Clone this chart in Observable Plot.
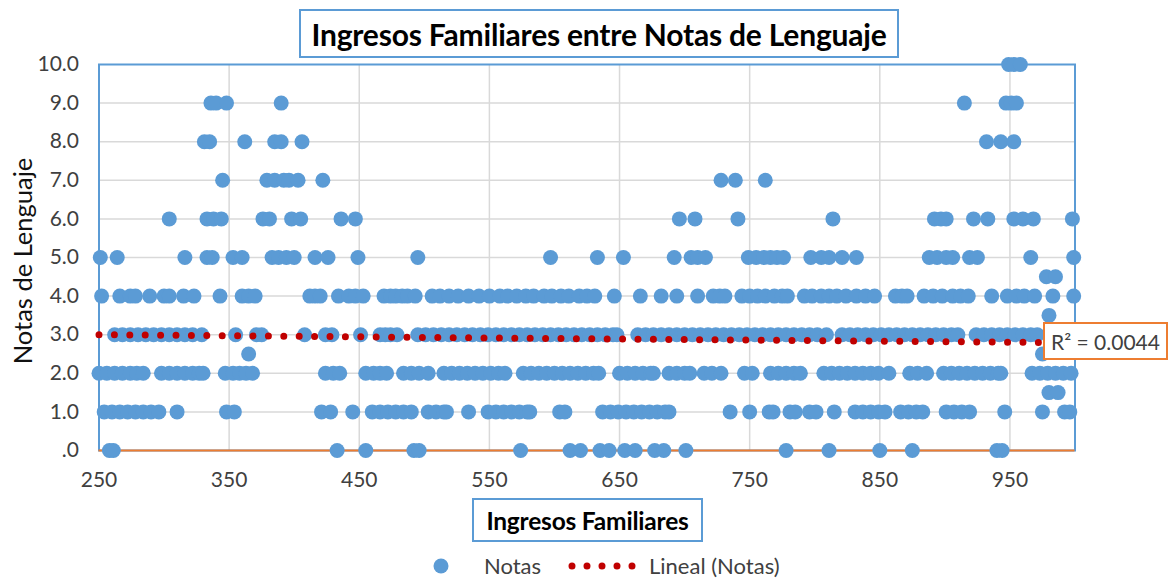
<!DOCTYPE html>
<html><head><meta charset="utf-8">
<script src="https://cdn.jsdelivr.net/npm/d3@7"></script>
<script src="https://cdn.jsdelivr.net/npm/@observablehq/plot@0.6"></script>
<style>
body{margin:0;background:#fff;font-family:Lato,sans-serif;}
#wrap{position:relative;width:1171px;height:578px;overflow:hidden;background:#fff}
#wrap svg{position:absolute;left:0;top:0}
.box{position:absolute;box-sizing:border-box;background:#fff;display:flex;align-items:center;justify-content:center;white-space:nowrap}
.abs{position:absolute;white-space:nowrap}
</style></head><body><div id="wrap"></div>
<script>
const chartTitle = "Ingresos Familiares entre Notas de Lenguaje";
const xTitle = "Ingresos Familiares";
const yTitle = "Notas de Lenguaje";
const seriesName = "Notas";
const trendName = "Lineal (Notas)";
const r2Label = "R² = 0.0044";

const xTicks = [250, 350, 450, 550, 650, 750, 850, 950];
const yTicks = [0, 1, 2, 3, 4, 5, 6, 7, 8, 9, 10];

// Ingresos familiares (x) for each Nota de Lenguaje (y)
const notas10 = [949, 953, 958];
const notas9 = [336, 340, 348, 390, 915, 947, 951, 955];
const notas8 = [331, 335, 362, 385, 390, 406, 932, 943, 953];
const notas7 = [345, 379, 385, 392, 396, 403, 422, 728, 739, 762];
const notas6 = [304, 333, 338, 344, 376, 381, 398, 405, 436, 447, 696, 708, 741, 814, 892, 897, 901, 922, 933, 953, 960, 968, 998];
const notas5 = [251, 264, 316, 333, 337, 353, 360, 383, 388, 394, 400, 416, 426, 449, 495, 597, 633, 653, 692, 705, 710, 716, 749, 755, 761, 766, 771, 776, 797, 805, 811, 821, 832, 888, 894, 901, 906, 919, 925, 966, 999];
const notas45 = [978, 985];
const notas4 = [252, 266, 274, 278, 289, 300, 304, 315, 323, 343, 360, 365, 370, 412, 416, 420, 434, 442, 447, 453, 469, 474, 478, 483, 487, 493, 506, 512, 519, 526, 534, 542, 550, 558, 564, 571, 578, 584, 592, 598, 605, 611, 619, 625, 631, 646, 666, 682, 694, 710, 722, 727, 731, 744, 750, 756, 762, 769, 775, 779, 792, 798, 805, 811, 817, 824, 832, 839, 846, 862, 867, 871, 884, 891, 898, 906, 912, 918, 936, 948, 955, 961, 969, 983, 999];
const notas35 = [980];
const notas3 = [262, 268, 274, 280, 286, 292, 298, 304, 310, 316, 322, 329, 355, 371, 375, 408, 424, 429, 451, 466, 470, 474, 479, 495, 501, 507, 513, 519, 525, 531, 537, 543, 549, 555, 561, 567, 573, 579, 585, 591, 597, 603, 609, 615, 621, 627, 633, 639, 645, 648, 664, 670, 676, 682, 688, 694, 700, 706, 712, 718, 724, 730, 736, 742, 748, 754, 760, 766, 772, 778, 784, 790, 796, 802, 809, 821, 827, 833, 839, 845, 851, 857, 863, 869, 875, 881, 887, 893, 899, 905, 910, 924, 930, 936, 942, 948, 954, 960, 966, 971, 980, 990, 998];
const notas25 = [365, 975];
const notas2 = [250, 256, 262, 268, 274, 279, 284, 298, 304, 310, 316, 322, 327, 330, 347, 353, 358, 363, 368, 424, 430, 435, 455, 461, 466, 471, 484, 490, 496, 503, 515, 521, 527, 533, 539, 545, 551, 557, 562, 576, 582, 588, 594, 600, 606, 612, 618, 624, 630, 634, 650, 656, 662, 668, 674, 676, 688, 694, 700, 704, 715, 721, 728, 746, 752, 766, 772, 778, 784, 789, 807, 813, 819, 825, 831, 837, 843, 849, 857, 873, 879, 886, 899, 905, 911, 917, 923, 929, 935, 941, 943, 967, 973, 979, 985, 991, 997];
const notas15 = [980, 987];
const notas1 = [254, 260, 266, 272, 278, 284, 290, 296, 310, 348, 354, 421, 428, 445, 460, 466, 472, 478, 484, 490, 503, 509, 515, 517, 534, 549, 555, 561, 567, 573, 579, 581, 604, 608, 637, 643, 649, 655, 661, 667, 673, 679, 685, 688, 735, 750, 765, 768, 781, 785, 796, 801, 815, 831, 837, 843, 849, 854, 866, 872, 878, 883, 901, 907, 913, 919, 946, 975, 992, 996];
const notas0 = [258, 261, 433, 455, 492, 496, 574, 612, 620, 635, 642, 654, 662, 677, 684, 701, 778, 811, 850, 875, 940, 944];

// Excel linear trendline endpoints
const trendX = [250, 1000];
const trendY = [3.0, 2.79];

const rows = [
  [10, notas10], [9, notas9], [8, notas8], [7, notas7], [6, notas6], [5, notas5],
  [4.5, notas45], [4, notas4], [3.5, notas35], [3, notas3], [2.5, notas25],
  [2, notas2], [1.5, notas15], [1, notas1], [0, notas0]
];
const data = rows.flatMap(([y, xs]) => xs.map(x => ({ingreso: x, nota: y})));
const trend = trendX.map((x, i) => ({x, y: trendY[i]}));

const BLUE = "#5B9BD5", ORANGE = "#ED7D31", RED = "#C00000";

const chart = Plot.plot({
  width: 1171, height: 578,
  marginLeft: 98.5, marginRight: 96.5, marginTop: 64, marginBottom: 128,
  x: {domain: [250, 1000]},
  y: {domain: [0, 10]},
  style: {fontFamily: "Lato, sans-serif", fontSize: "21px", color: "#404040", background: "white", overflow: "visible"},
  marks: [
    Plot.gridX(xTicks.filter(d => d > 250), {stroke: "#d9d9d9", strokeOpacity: 1, strokeWidth: 1.5}),
    Plot.gridY(yTicks.filter(d => d > 0 && d < 10), {stroke: "#d9d9d9", strokeOpacity: 1, strokeWidth: 1.5}),
    Plot.frame({stroke: BLUE, strokeWidth: 2}),
    Plot.ruleY([0], {stroke: ORANGE, strokeWidth: 2}),
    Plot.axisX({ticks: xTicks, tickSize: 0, tickPadding: 22, label: null, tickFormat: d => String(d), fontSize: 21}),
    Plot.axisY({ticks: yTicks, tickSize: 0, tickPadding: 20, label: null, tickFormat: d => d === 0 ? ".0" : d.toFixed(1), fontSize: 21}),
    Plot.dot(data, {x: "ingreso", y: "nota", r: 7.5, fill: BLUE, stroke: "none"}),
    Plot.line(trend, {x: "x", y: "y", stroke: RED, strokeWidth: 7, strokeDasharray: "0 15.4", strokeLinecap: "round"})
  ]
});
const wrap = document.getElementById("wrap");
wrap.appendChild(chart);

function box(text, left, top, w, h, border, css) {
  const d = document.createElement("div");
  d.className = "box";
  d.style.cssText += `left:${left}px;top:${top}px;width:${w}px;height:${h}px;border:2px solid ${border};` + css;
  d.textContent = text;
  wrap.appendChild(d);
  return d;
}
box(chartTitle, 299, 9, 600, 49, BLUE, "font-weight:700;font-size:30px;color:#000;letter-spacing:-0.2px;");
box(xTitle, 472, 498, 231, 44, BLUE, "font-weight:700;font-size:24.5px;color:#000;letter-spacing:-0.2px;");
box(r2Label, 1043, 322, 125, 38, ORANGE, "font-size:21px;color:#404040;");

const yt = document.createElement("div");
yt.className = "abs";
yt.textContent = yTitle;
yt.style.cssText += "left:22px;top:261px;transform:translate(-50%,-50%) rotate(-90deg);font-size:25.5px;color:#111;";
wrap.appendChild(yt);

// legend
const lg = document.createElementNS("http://www.w3.org/2000/svg", "svg");
lg.setAttribute("width", 1171); lg.setAttribute("height", 578);
lg.style.cssText = "position:absolute;left:0;top:0;pointer-events:none";
lg.innerHTML = `<circle cx="441" cy="566" r="7.5" fill="${BLUE}"/>
<line x1="572" y1="566" x2="633" y2="566" stroke="${RED}" stroke-width="7" stroke-dasharray="0 15" stroke-linecap="round"/>
<text x="484" y="566" dy="0.35em" font-size="22" fill="#404040" font-family="Lato, sans-serif">${seriesName}</text>
<text x="649" y="566" dy="0.35em" font-size="22" fill="#404040" font-family="Lato, sans-serif">${trendName}</text>`;
wrap.appendChild(lg);
</script>
</body></html>
